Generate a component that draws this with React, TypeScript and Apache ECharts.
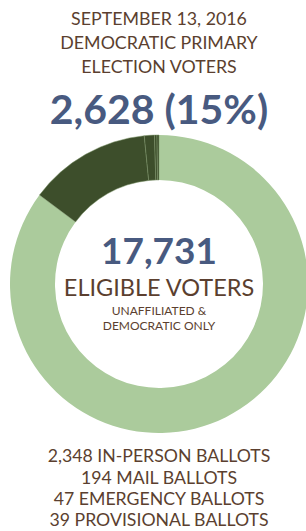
import React, { useEffect, useRef } from "react";
import * as echarts from "echarts";

const segmentNames = ["Did not vote", "In-person", "Mail", "Emergency", "Provisional"];
const segmentValues = [15103, 2348, 194, 47, 39];
const headerLines = ["SEPTEMBER 13, 2016", "DEMOCRATIC PRIMARY", "ELECTION VOTERS"];
const headline = "2,628 (15%)";
const centerNumber = "17,731";
const centerLabel = "ELIGIBLE VOTERS";
const centerSubLines = ["UNAFFILIATED &", "DEMOCRATIC ONLY"];
const footerLines = [
  "2,348 IN-PERSON BALLOTS",
  "194 MAIL BALLOTS",
  "47 EMERGENCY BALLOTS",
  "39 PROVISIONAL BALLOTS",
];

const LIGHT = "#abcb9c";
const DARK = "#3d4e2b";
const BROWN = "#5b3f2f";
const BLUE = "#485a80";
const FONT = "Lato, 'Open Sans', sans-serif";

export default function App() {
  const ref = useRef<HTMLDivElement>(null);
  useEffect(() => {
    if (!ref.current) return;
    const chart = echarts.init(ref.current, null, { renderer: "svg" });
    const cx = 159;
    const txt = (text: string, y: number, size: number, color: string, weight = "normal") => ({
      type: "text",
      x: cx,
      y,
      style: {
        text,
        fill: color,
        font: `${weight} ${size}px ${FONT}`,
        textAlign: "center",
        textVerticalAlign: "middle",
      },
    });
    const headerY = [18, 42, 66];
    const footerY = [455, 477, 498, 519];
    const subY = [310.5, 325];
    chart.setOption({
      animation: false,
      series: [
        {
          type: "pie",
          center: [cx, 284],
          radius: [104, 149],
          startAngle: 90,
          clockwise: true,
          silent: true,
          label: { show: false },
          labelLine: { show: false },
          data: segmentNames.map((n, i) => ({
            name: n,
            value: segmentValues[i],
            itemStyle: {
              color: i === 0 ? LIGHT : DARK,
              borderColor: i === 0 ? LIGHT : "#7d9468",
              borderWidth: i === 0 ? 0 : 0.5,
            },
          })),
        },
      ],
      graphic: [
        ...headerLines.map((t, i) => txt(t, headerY[i], 17.8, BROWN)),
        txt(headline, 108, 41, BLUE, "bold"),
        txt(centerNumber, 249, 37, BLUE, "bold"),
        txt(centerLabel, 287, 23.5, BROWN),
        ...centerSubLines.map((t, i) => txt(t, subY[i], 12, BROWN)),
        ...footerLines.map((t, i) => txt(t, footerY[i], 17.7, BROWN)),
      ],
    });
    return () => chart.dispose();
  }, []);
  return (
    <div
      ref={ref}
      style={{ position: "fixed", left: 0, top: 0, width: 306, height: 531, background: "#fff" }}
    />
  );
}
